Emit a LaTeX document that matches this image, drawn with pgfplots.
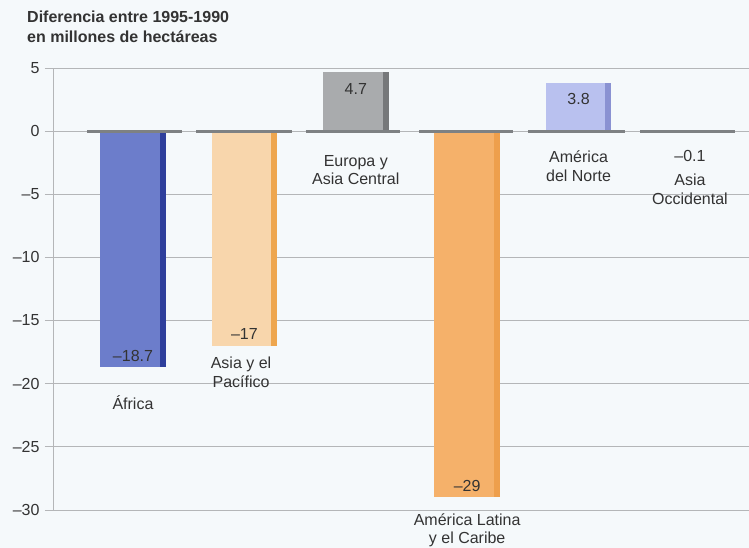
\documentclass[border=0pt]{standalone}
\usepackage{pgfplots}
\pgfplotsset{compat=1.18}
\usepackage{fontspec}
\setmainfont{Liberation Sans}
\definecolor{bg}{HTML}{F5F9FB}
\definecolor{txt}{HTML}{333333}
\definecolor{gridc}{HTML}{B4B6B8}
\definecolor{basec}{HTML}{7E8183}
\definecolor{afr}{HTML}{6C7DCB}
\definecolor{afrd}{HTML}{2E3F9C}
\definecolor{asp}{HTML}{F8D6AC}
\definecolor{aspd}{HTML}{EEA64E}
\definecolor{eur}{HTML}{A9ABAD}
\definecolor{eurd}{HTML}{76787A}
\definecolor{lat}{HTML}{F5B16A}
\definecolor{latd}{HTML}{EE9F4C}
\definecolor{nor}{HTML}{B9C1EF}
\definecolor{nord}{HTML}{8A92D2}
\definecolor{occ}{HTML}{8C8E90}
\tikzset{lab/.style={font=\fontsize{16bp}{18.5bp}\selectfont, text=txt, align=center, inner sep=0pt}}
\begin{document}
\begin{tikzpicture}
\fill[bg] (0,0) rectangle (749bp,548bp);
\useasboundingbox (0,0) rectangle (749bp,548bp);
\node[anchor=base west, inner sep=0pt, text=txt, font=\bfseries\fontsize{16bp}{19bp}\selectfont] at (27bp,525bp) {Diferencia entre 1995-1990};
\node[anchor=base west, inner sep=0pt, text=txt, font=\bfseries\fontsize{16bp}{19bp}\selectfont] at (27bp,505bp) {en millones de hectáreas};
\begin{axis}[
  at={(53bp,38bp)}, anchor=south west,
  scale only axis, width=696bp, height=442bp,
  xmin=-0.718, xmax=5.53, ymin=-30, ymax=5,
  axis x line=none, axis y line*=left,
  axis line style={gridc, line width=0.8bp},
  ytick={-30,-25,-20,-15,-10,-5,0,5},
  yticklabels={–30,–25,–20,–15,–10,–5,0,5},
  ymajorgrids, grid style={gridc, line width=0.8bp},
  tick align=outside, major tick length=8bp,
  tick style={gridc, line width=0.8bp},
  yticklabel style={font=\fontsize{16bp}{19bp}\selectfont, text=txt, xshift=-2bp},
  clip=false,
]
% main bars
\addplot[ybar, bar width=0.59, bar shift=0, fill=afr, draw=none] coordinates {(0,-18.7)};
\addplot[ybar, bar width=0.59, bar shift=0, fill=asp, draw=none] coordinates {(1,-17)};
\addplot[ybar, bar width=0.59, bar shift=0, fill=eur, draw=none] coordinates {(2,4.7)};
\addplot[ybar, bar width=0.59, bar shift=0, fill=lat, draw=none] coordinates {(3,-29)};
\addplot[ybar, bar width=0.59, bar shift=0, fill=nor, draw=none] coordinates {(4,3.8)};
\addplot[ybar, bar width=0.59, bar shift=0, fill=occ, draw=none] coordinates {(5,-0.1)};
% right-side shading
\addplot[ybar, bar width=0.055, bar shift=0.2675, fill=afrd, draw=none] coordinates {(0,-18.7)};
\addplot[ybar, bar width=0.055, bar shift=0.2675, fill=aspd, draw=none] coordinates {(1,-17)};
\addplot[ybar, bar width=0.055, bar shift=0.2675, fill=eurd, draw=none] coordinates {(2,4.7)};
\addplot[ybar, bar width=0.055, bar shift=0.2675, fill=latd, draw=none] coordinates {(3,-29)};
\addplot[ybar, bar width=0.055, bar shift=0.2675, fill=nord, draw=none] coordinates {(4,3.8)};
% baseline segments
\addplot[basec, line width=3bp] coordinates {(-0.41,0) (0.44,0)};
\addplot[basec, line width=3bp] coordinates {(0.57,0) (1.43,0)};
\addplot[basec, line width=3bp] coordinates {(1.55,0) (2.40,0)};
\addplot[basec, line width=3bp] coordinates {(2.57,0) (3.41,0)};
\addplot[basec, line width=3bp] coordinates {(3.55,0) (4.42,0)};
\addplot[basec, line width=3bp] coordinates {(4.55,0) (5.40,0)};
% value labels
\node[lab] at (axis cs:0,-17.8) {–18.7};
\node[lab] at (axis cs:1,-16.07) {–17};
\node[lab] at (axis cs:2,3.33) {4.7};
\node[lab] at (axis cs:3,-28.1) {–29};
\node[lab] at (axis cs:4,2.53) {3.8};
\node[lab] at (axis cs:5,-1.98) {–0.1};
% category labels
\node[lab] at (axis cs:0,-21.46) {África};
\node[lab] at (axis cs:0.97,-19.08) {Asia y el\\Pacífico};
\node[lab] at (axis cs:2,-3.09) {Europa y\\Asia Central};
\node[lab, font=\fontsize{16bp}{17.5bp}\selectfont] at (axis cs:3,-31.62) {América Latina\\y el Caribe};
\node[lab] at (axis cs:4,-2.77) {América\\del Norte};
\node[lab] at (axis cs:5,-4.6) {Asia\\Occidental};
\end{axis}
\end{tikzpicture}
\end{document}
